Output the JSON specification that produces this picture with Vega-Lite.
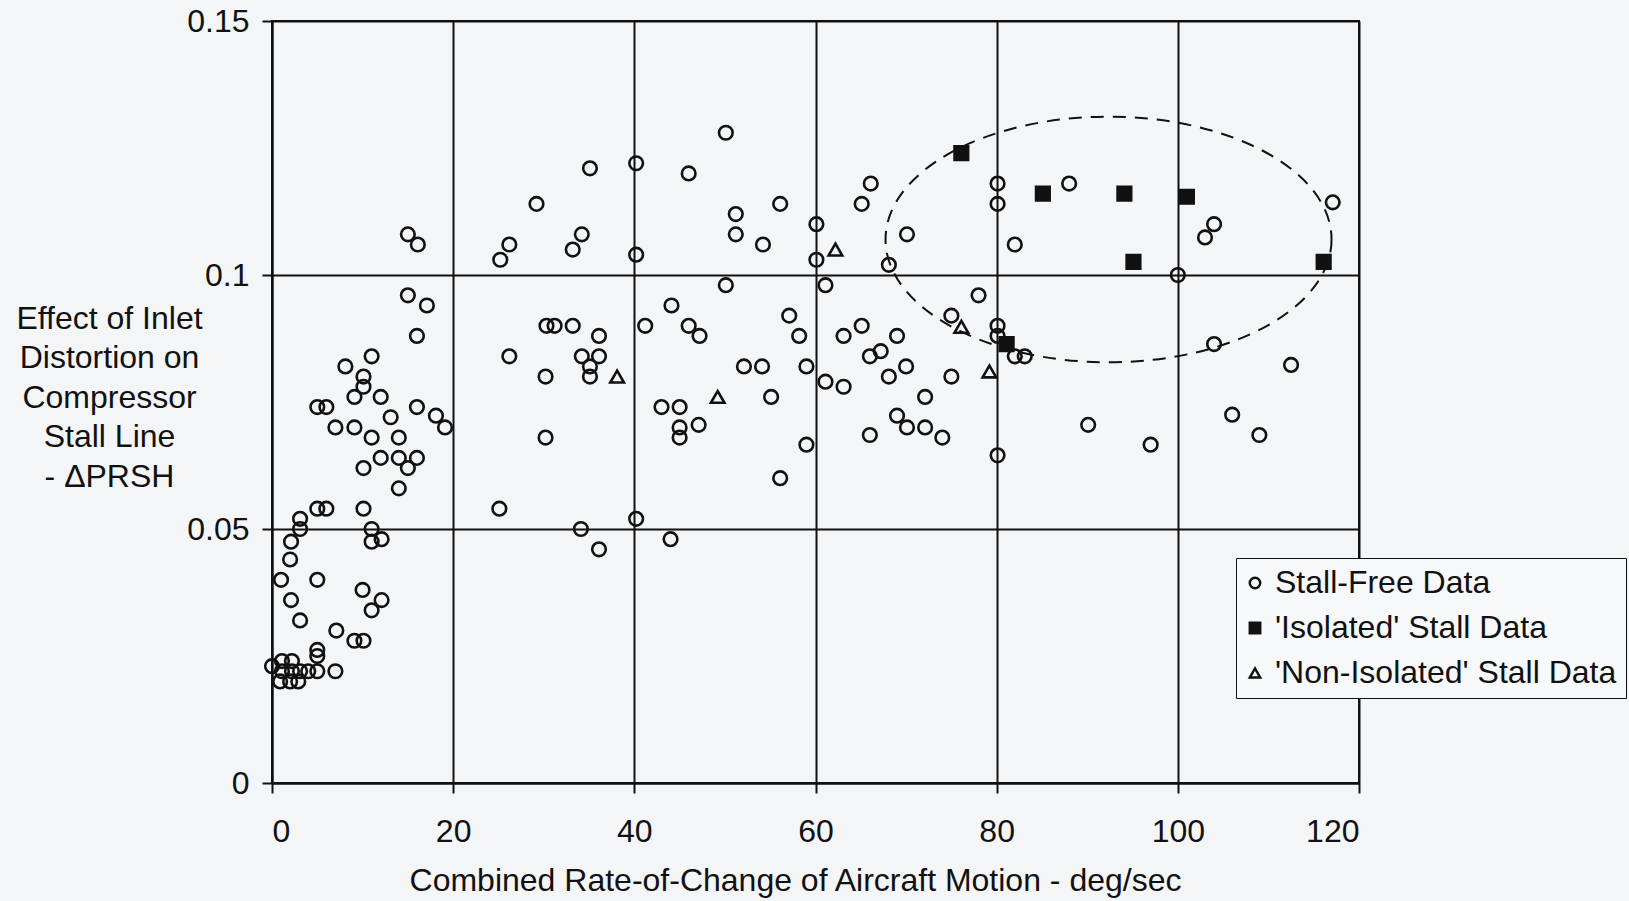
{
  "$schema": "https://vega.github.io/schema/vega-lite/v6.json",
  "width": 1087,
  "height": 762,
  "autosize": {"type": "none"},
  "padding": {"left": 272, "top": 21, "right": 270, "bottom": 118},
  "background": "#f4f5f7",
  "config": {
    "font": "Liberation Sans",
    "view": {"stroke": "#111111", "strokeWidth": 2},
    "axis": {
      "domainColor": "#111111", "domainWidth": 2,
      "tickColor": "#111111", "tickWidth": 2, "tickSize": 10,
      "gridColor": "#111111", "gridWidth": 2, "gridOpacity": 1,
      "labelFont": "Liberation Sans", "labelFontSize": 32, "labelColor": "#111111",
      "titleFont": "Liberation Sans", "titleFontSize": 32, "titleFontWeight": "normal", "titleColor": "#111111"
    },
    "legend": {
      "orient": "none", "legendX": 964, "legendY": 537,
      "strokeColor": "#111111", "fillColor": "#f7f8fa", "padding": 9,
      "labelFont": "Liberation Sans", "labelFontSize": 32, "labelColor": "#111111",
      "symbolSize": 110, "symbolStrokeWidth": 2.4, "symbolStrokeColor": "#111111",
      "symbolOffset": -6,
      "rowPadding": 13, "labelOffset": 4, "labelLimit": 500
    }
  },
  "datasets": {
    "ellipse": [{"x": 92.35, "y": 0.107}],
    "points": [
      {"x": 2.1, "y": 0.0475, "type": "Stall-Free Data"},
      {"x": 2.0, "y": 0.044, "type": "Stall-Free Data"},
      {"x": 1.0, "y": 0.040, "type": "Stall-Free Data"},
      {"x": 5.0, "y": 0.040, "type": "Stall-Free Data"},
      {"x": 2.1, "y": 0.036, "type": "Stall-Free Data"},
      {"x": 10.0, "y": 0.038, "type": "Stall-Free Data"},
      {"x": 12.1, "y": 0.036, "type": "Stall-Free Data"},
      {"x": 11.0, "y": 0.034, "type": "Stall-Free Data"},
      {"x": 3.1, "y": 0.032, "type": "Stall-Free Data"},
      {"x": 7.1, "y": 0.030, "type": "Stall-Free Data"},
      {"x": 9.1, "y": 0.028, "type": "Stall-Free Data"},
      {"x": 10.1, "y": 0.028, "type": "Stall-Free Data"},
      {"x": 5.0, "y": 0.0262, "type": "Stall-Free Data"},
      {"x": 5.0, "y": 0.025, "type": "Stall-Free Data"},
      {"x": 0.0, "y": 0.023, "type": "Stall-Free Data"},
      {"x": 1.1, "y": 0.024, "type": "Stall-Free Data"},
      {"x": 2.2, "y": 0.024, "type": "Stall-Free Data"},
      {"x": 1.1, "y": 0.022, "type": "Stall-Free Data"},
      {"x": 2.2, "y": 0.022, "type": "Stall-Free Data"},
      {"x": 3.1, "y": 0.022, "type": "Stall-Free Data"},
      {"x": 4.0, "y": 0.022, "type": "Stall-Free Data"},
      {"x": 5.0, "y": 0.022, "type": "Stall-Free Data"},
      {"x": 7.0, "y": 0.022, "type": "Stall-Free Data"},
      {"x": 0.9, "y": 0.020, "type": "Stall-Free Data"},
      {"x": 2.0, "y": 0.020, "type": "Stall-Free Data"},
      {"x": 2.9, "y": 0.020, "type": "Stall-Free Data"},
      {"x": 11.0, "y": 0.0475, "type": "Stall-Free Data"},
      {"x": 12.1, "y": 0.048, "type": "Stall-Free Data"},
      {"x": 11.0, "y": 0.050, "type": "Stall-Free Data"},
      {"x": 3.1, "y": 0.052, "type": "Stall-Free Data"},
      {"x": 3.1, "y": 0.050, "type": "Stall-Free Data"},
      {"x": 5.0, "y": 0.054, "type": "Stall-Free Data"},
      {"x": 6.0, "y": 0.054, "type": "Stall-Free Data"},
      {"x": 10.1, "y": 0.054, "type": "Stall-Free Data"},
      {"x": 14.0, "y": 0.058, "type": "Stall-Free Data"},
      {"x": 10.1, "y": 0.062, "type": "Stall-Free Data"},
      {"x": 15.0, "y": 0.062, "type": "Stall-Free Data"},
      {"x": 12.0, "y": 0.064, "type": "Stall-Free Data"},
      {"x": 14.0, "y": 0.064, "type": "Stall-Free Data"},
      {"x": 16.0, "y": 0.064, "type": "Stall-Free Data"},
      {"x": 11.0, "y": 0.068, "type": "Stall-Free Data"},
      {"x": 14.0, "y": 0.068, "type": "Stall-Free Data"},
      {"x": 7.0, "y": 0.070, "type": "Stall-Free Data"},
      {"x": 9.1, "y": 0.070, "type": "Stall-Free Data"},
      {"x": 19.1, "y": 0.070, "type": "Stall-Free Data"},
      {"x": 13.1, "y": 0.072, "type": "Stall-Free Data"},
      {"x": 18.1, "y": 0.0723, "type": "Stall-Free Data"},
      {"x": 5.0, "y": 0.074, "type": "Stall-Free Data"},
      {"x": 6.0, "y": 0.074, "type": "Stall-Free Data"},
      {"x": 16.0, "y": 0.074, "type": "Stall-Free Data"},
      {"x": 9.1, "y": 0.076, "type": "Stall-Free Data"},
      {"x": 12.0, "y": 0.076, "type": "Stall-Free Data"},
      {"x": 10.1, "y": 0.078, "type": "Stall-Free Data"},
      {"x": 10.1, "y": 0.080, "type": "Stall-Free Data"},
      {"x": 8.1, "y": 0.082, "type": "Stall-Free Data"},
      {"x": 11.0, "y": 0.084, "type": "Stall-Free Data"},
      {"x": 16.0, "y": 0.088, "type": "Stall-Free Data"},
      {"x": 17.1, "y": 0.094, "type": "Stall-Free Data"},
      {"x": 15.0, "y": 0.096, "type": "Stall-Free Data"},
      {"x": 15.0, "y": 0.108, "type": "Stall-Free Data"},
      {"x": 16.1, "y": 0.106, "type": "Stall-Free Data"},
      {"x": 25.1, "y": 0.054, "type": "Stall-Free Data"},
      {"x": 30.2, "y": 0.068, "type": "Stall-Free Data"},
      {"x": 26.2, "y": 0.084, "type": "Stall-Free Data"},
      {"x": 30.2, "y": 0.080, "type": "Stall-Free Data"},
      {"x": 30.3, "y": 0.090, "type": "Stall-Free Data"},
      {"x": 31.2, "y": 0.090, "type": "Stall-Free Data"},
      {"x": 33.2, "y": 0.090, "type": "Stall-Free Data"},
      {"x": 36.1, "y": 0.088, "type": "Stall-Free Data"},
      {"x": 34.2, "y": 0.084, "type": "Stall-Free Data"},
      {"x": 36.1, "y": 0.084, "type": "Stall-Free Data"},
      {"x": 35.1, "y": 0.082, "type": "Stall-Free Data"},
      {"x": 35.1, "y": 0.080, "type": "Stall-Free Data"},
      {"x": 41.2, "y": 0.090, "type": "Stall-Free Data"},
      {"x": 43.0, "y": 0.074, "type": "Stall-Free Data"},
      {"x": 45.0, "y": 0.074, "type": "Stall-Free Data"},
      {"x": 45.0, "y": 0.070, "type": "Stall-Free Data"},
      {"x": 45.0, "y": 0.068, "type": "Stall-Free Data"},
      {"x": 47.1, "y": 0.0705, "type": "Stall-Free Data"},
      {"x": 40.2, "y": 0.052, "type": "Stall-Free Data"},
      {"x": 34.1, "y": 0.050, "type": "Stall-Free Data"},
      {"x": 36.1, "y": 0.046, "type": "Stall-Free Data"},
      {"x": 44.0, "y": 0.048, "type": "Stall-Free Data"},
      {"x": 44.1, "y": 0.094, "type": "Stall-Free Data"},
      {"x": 46.0, "y": 0.090, "type": "Stall-Free Data"},
      {"x": 47.2, "y": 0.088, "type": "Stall-Free Data"},
      {"x": 25.2, "y": 0.103, "type": "Stall-Free Data"},
      {"x": 26.2, "y": 0.106, "type": "Stall-Free Data"},
      {"x": 29.2, "y": 0.114, "type": "Stall-Free Data"},
      {"x": 33.2, "y": 0.105, "type": "Stall-Free Data"},
      {"x": 34.2, "y": 0.108, "type": "Stall-Free Data"},
      {"x": 35.1, "y": 0.121, "type": "Stall-Free Data"},
      {"x": 40.2, "y": 0.122, "type": "Stall-Free Data"},
      {"x": 40.2, "y": 0.104, "type": "Stall-Free Data"},
      {"x": 46.0, "y": 0.120, "type": "Stall-Free Data"},
      {"x": 50.1, "y": 0.128, "type": "Stall-Free Data"},
      {"x": 51.2, "y": 0.112, "type": "Stall-Free Data"},
      {"x": 51.2, "y": 0.108, "type": "Stall-Free Data"},
      {"x": 54.2, "y": 0.106, "type": "Stall-Free Data"},
      {"x": 56.1, "y": 0.114, "type": "Stall-Free Data"},
      {"x": 60.1, "y": 0.110, "type": "Stall-Free Data"},
      {"x": 60.1, "y": 0.103, "type": "Stall-Free Data"},
      {"x": 50.1, "y": 0.098, "type": "Stall-Free Data"},
      {"x": 61.1, "y": 0.098, "type": "Stall-Free Data"},
      {"x": 65.1, "y": 0.114, "type": "Stall-Free Data"},
      {"x": 66.1, "y": 0.118, "type": "Stall-Free Data"},
      {"x": 68.1, "y": 0.102, "type": "Stall-Free Data"},
      {"x": 70.1, "y": 0.108, "type": "Stall-Free Data"},
      {"x": 57.1, "y": 0.092, "type": "Stall-Free Data"},
      {"x": 58.2, "y": 0.088, "type": "Stall-Free Data"},
      {"x": 52.1, "y": 0.082, "type": "Stall-Free Data"},
      {"x": 54.1, "y": 0.082, "type": "Stall-Free Data"},
      {"x": 59.0, "y": 0.082, "type": "Stall-Free Data"},
      {"x": 55.1, "y": 0.076, "type": "Stall-Free Data"},
      {"x": 59.0, "y": 0.0666, "type": "Stall-Free Data"},
      {"x": 56.1, "y": 0.060, "type": "Stall-Free Data"},
      {"x": 61.1, "y": 0.079, "type": "Stall-Free Data"},
      {"x": 63.1, "y": 0.078, "type": "Stall-Free Data"},
      {"x": 63.1, "y": 0.088, "type": "Stall-Free Data"},
      {"x": 65.1, "y": 0.090, "type": "Stall-Free Data"},
      {"x": 69.0, "y": 0.088, "type": "Stall-Free Data"},
      {"x": 66.0, "y": 0.084, "type": "Stall-Free Data"},
      {"x": 67.2, "y": 0.085, "type": "Stall-Free Data"},
      {"x": 68.1, "y": 0.080, "type": "Stall-Free Data"},
      {"x": 70.0, "y": 0.082, "type": "Stall-Free Data"},
      {"x": 69.0, "y": 0.0723, "type": "Stall-Free Data"},
      {"x": 70.1, "y": 0.070, "type": "Stall-Free Data"},
      {"x": 72.1, "y": 0.070, "type": "Stall-Free Data"},
      {"x": 72.1, "y": 0.076, "type": "Stall-Free Data"},
      {"x": 74.0, "y": 0.068, "type": "Stall-Free Data"},
      {"x": 66.0, "y": 0.0685, "type": "Stall-Free Data"},
      {"x": 75.0, "y": 0.080, "type": "Stall-Free Data"},
      {"x": 75.0, "y": 0.092, "type": "Stall-Free Data"},
      {"x": 78.0, "y": 0.096, "type": "Stall-Free Data"},
      {"x": 80.1, "y": 0.090, "type": "Stall-Free Data"},
      {"x": 80.1, "y": 0.088, "type": "Stall-Free Data"},
      {"x": 82.0, "y": 0.084, "type": "Stall-Free Data"},
      {"x": 83.1, "y": 0.084, "type": "Stall-Free Data"},
      {"x": 80.1, "y": 0.0645, "type": "Stall-Free Data"},
      {"x": 90.1, "y": 0.0705, "type": "Stall-Free Data"},
      {"x": 80.1, "y": 0.118, "type": "Stall-Free Data"},
      {"x": 80.1, "y": 0.114, "type": "Stall-Free Data"},
      {"x": 82.0, "y": 0.106, "type": "Stall-Free Data"},
      {"x": 88.0, "y": 0.118, "type": "Stall-Free Data"},
      {"x": 100.0, "y": 0.100, "type": "Stall-Free Data"},
      {"x": 103.0, "y": 0.1074, "type": "Stall-Free Data"},
      {"x": 104.0, "y": 0.110, "type": "Stall-Free Data"},
      {"x": 117.1, "y": 0.1143, "type": "Stall-Free Data"},
      {"x": 104.0, "y": 0.0864, "type": "Stall-Free Data"},
      {"x": 112.5, "y": 0.0823, "type": "Stall-Free Data"},
      {"x": 106.0, "y": 0.0725, "type": "Stall-Free Data"},
      {"x": 109.0, "y": 0.0685, "type": "Stall-Free Data"},
      {"x": 97.0, "y": 0.0666, "type": "Stall-Free Data"},
      {"x": 76.1, "y": 0.124, "type": "'Isolated' Stall Data"},
      {"x": 85.1, "y": 0.116, "type": "'Isolated' Stall Data"},
      {"x": 94.1, "y": 0.116, "type": "'Isolated' Stall Data"},
      {"x": 101.0, "y": 0.1154, "type": "'Isolated' Stall Data"},
      {"x": 95.1, "y": 0.1026, "type": "'Isolated' Stall Data"},
      {"x": 116.1, "y": 0.1026, "type": "'Isolated' Stall Data"},
      {"x": 81.1, "y": 0.0864, "type": "'Isolated' Stall Data"},
      {"x": 38.1, "y": 0.080, "type": "'Non-Isolated' Stall Data"},
      {"x": 49.2, "y": 0.076, "type": "'Non-Isolated' Stall Data"},
      {"x": 62.2, "y": 0.105, "type": "'Non-Isolated' Stall Data"},
      {"x": 76.1, "y": 0.0898, "type": "'Non-Isolated' Stall Data"},
      {"x": 79.2, "y": 0.081, "type": "'Non-Isolated' Stall Data"}
    ]
  },
  "layer": [
    {
      "data": {"name": "ellipse"},
      "mark": {
        "type": "point",
        "shape": "M 1 0 C 1 0.3041 0.5523 0.5507 0 0.5507 C -0.5523 0.5507 -1 0.3041 -1 0 C -1 -0.3041 -0.5523 -0.5507 0 -0.5507 C 0.5523 -0.5507 1 -0.3041 1 0 Z",
        "size": 198916,
        "filled": false,
        "stroke": "#111111",
        "strokeWidth": 2,
        "strokeDash": [13, 9],
        "opacity": 1
      },
      "encoding": {
        "x": {"field": "x", "type": "quantitative", "scale": {"domain": [0, 120], "nice": false}},
        "y": {"field": "y", "type": "quantitative", "scale": {"domain": [0, 0.15], "nice": false}}
      }
    },
    {
      "data": {"name": "points"},
      "mark": {"type": "point", "filled": true, "size": 185, "strokeWidth": 2.6, "opacity": 1},
      "encoding": {
        "x": {
          "field": "x", "type": "quantitative",
          "scale": {"domain": [0, 120], "nice": false},
          "axis": {
            "values": [0, 20, 40, 60, 80, 100, 120],
            "title": "Combined Rate-of-Change of Aircraft Motion - deg/sec",
            "labelBaseline": "middle", "labelPadding": 38,
            "titleX": 523, "titleY": 97, "titleAlign": "center", "titleBaseline": "middle",
            "grid": true
          }
        },
        "y": {
          "field": "y", "type": "quantitative",
          "scale": {"domain": [0, 0.15], "nice": false},
          "axis": {
            "values": [0, 0.05, 0.1, 0.15],
            "format": "~g",
            "labelPadding": 13,
            "title": ["Effect of Inlet", "Distortion on", "Compressor", "Stall Line", "- ΔPRSH"],
            "titleAngle": 0, "titleAlign": "center", "titleBaseline": "middle",
            "titleX": -163, "titleY": 297, "titleLineHeight": 39.5,
            "grid": true
          }
        },
        "shape": {
          "field": "type", "type": "nominal",
          "scale": {"domain": ["Stall-Free Data", "'Isolated' Stall Data", "'Non-Isolated' Stall Data"], "range": ["circle", "square", "triangle-up"]},
          "legend": {"title": null}
        },
        "fill": {
          "field": "type", "type": "nominal",
          "scale": {"domain": ["Stall-Free Data", "'Isolated' Stall Data", "'Non-Isolated' Stall Data"], "range": ["transparent", "#111111", "transparent"]},
          "legend": {"title": null}
        },
        "stroke": {
          "field": "type", "type": "nominal",
          "scale": {"domain": ["Stall-Free Data", "'Isolated' Stall Data", "'Non-Isolated' Stall Data"], "range": ["#111111", "#111111", "#111111"]},
          "legend": {"title": null, "encode": {"symbols": {"strokeWidth": {"value": 2.4}}}}
        }
      }
    }
  ]
}
